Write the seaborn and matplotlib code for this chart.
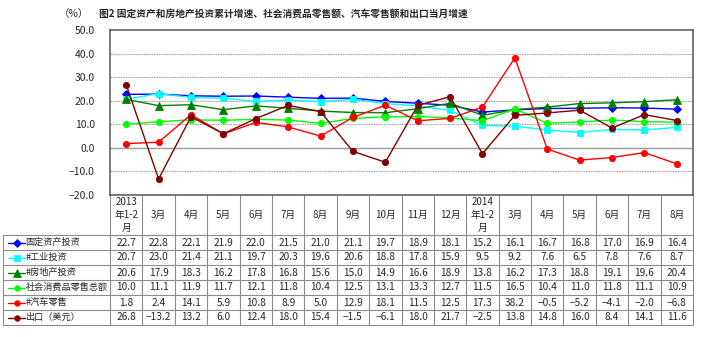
import matplotlib
matplotlib.use("Agg")
import matplotlib.pyplot as plt
import numpy as np
import pandas as pd
import seaborn as sns

sns.set_theme(style="white")
plt.rcParams["font.family"] = ["Noto Sans CJK SC", "DejaVu Sans"]
plt.rcParams["axes.unicode_minus"] = True

# Month labels (table header)
months = ["2013\n年1-2\n月", "3月", "4月", "5月", "6月", "7月", "8月", "9月",
          "10月", "11月", "12月", "2014\n年1-2\n月", "3月", "4月", "5月",
          "6月", "7月", "8月"]

# Growth rates, %
fixed_asset = [22.7, 22.8, 22.1, 21.9, 22.0, 21.5, 21.0, 21.1, 19.7, 18.9, 18.1,
               15.2, 16.1, 16.7, 16.8, 17.0, 16.9, 16.4]
industry = [20.7, 23.0, 21.4, 21.1, 19.7, 20.3, 19.6, 20.6, 18.8, 17.8, 15.9,
            9.5, 9.2, 7.6, 6.5, 7.8, 7.6, 8.7]
real_estate = [20.6, 17.9, 18.3, 16.2, 17.8, 16.8, 15.6, 15.0, 14.9, 16.6, 18.9,
               13.8, 16.2, 17.3, 18.8, 19.1, 19.6, 20.4]
retail = [10.0, 11.1, 11.9, 11.7, 12.1, 11.8, 10.4, 12.5, 13.1, 13.3, 12.7,
          11.5, 16.5, 10.4, 11.0, 11.8, 11.1, 10.9]
auto_retail = [1.8, 2.4, 14.1, 5.9, 10.8, 8.9, 5.0, 12.9, 18.1, 11.5, 12.5,
               17.3, 38.2, -0.5, -5.2, -4.1, -2.0, -6.8]
exports = [26.8, -13.2, 13.2, 6.0, 12.4, 18.0, 15.4, -1.5, -6.1, 18.0, 21.7,
           -2.5, 13.8, 14.8, 16.0, 8.4, 14.1, 11.6]

series_names = ["固定资产投资", "#工业投资", "#房地产投资", "社会消费品零售总额",
                "#汽车零售", "出口（美元）"]
series_values = [fixed_asset, industry, real_estate, retail, auto_retail, exports]
colors = ["#0000FF", "#00FFFF", "#008000", "#00FF00", "#FF0000", "#800000"]
markers = ["D", "s", "^", "o", "o", "o"]
msizes = [4.5, 4.5, 6.0, 4.5, 4.5, 4.5]

rows = []
for name, vals in zip(series_names, series_values):
    for i, v in enumerate(vals):
        rows.append({"idx": i, "value": v, "series": name})
df = pd.DataFrame(rows)

W, H = 712, 337
fig = plt.figure(figsize=(W / 100, H / 100), dpi=100)

x0, x1 = 110, 693
y_top, y_bot = 30, 195
ax = fig.add_axes([x0 / W, (H - y_bot) / H, (x1 - x0) / W, (y_bot - y_top) / H])

for name, c, m, ms in zip(series_names, colors, markers, msizes):
    sub = df[df["series"] == name]
    sns.lineplot(data=sub, x="idx", y="value", ax=ax, color=c, marker=m,
                 markersize=ms, markeredgecolor=c, markeredgewidth=0.6,
                 linewidth=1.0, legend=False, zorder=3)

ax.set_xlim(-0.5, len(months) - 0.5)
ax.set_ylim(-20, 50)
ax.set_yticks(np.arange(-20, 51, 10))
ax.set_yticklabels([f"{v:.1f}".replace("-", "−") for v in np.arange(-20, 51, 10)],
                   fontsize=7.5)
ax.set_xticks([])
ax.set_xlabel("")
ax.set_ylabel("")
ax.tick_params(axis="y", length=0, pad=11)
for yv in np.arange(-10, 50, 10):
    if yv == 0:
        ax.axhline(yv, color="#9a9a9a", lw=1.0, zorder=1)
    else:
        ax.axhline(yv, color="#a8a8a8", lw=0.8, ls=(0, (1.5, 0.8)), zorder=1)
for s in ax.spines.values():
    s.set_color("#555555")
    s.set_linewidth(1.1)

# Overlay in pixel coordinates for the title and the data table
ov = fig.add_axes([0, 0, 1, 1], zorder=-1)
ov.set_xlim(0, W)
ov.set_ylim(H, 0)
ov.axis("off")

ov.text(74, 14, "（%）", fontsize=7.5, ha="center", va="center")
ov.text(283, 14, "图2 固定资产和房地产投资累计增速、社会消费品零售额、汽车零售额和出口当月增速",
        fontsize=7.0, ha="center", va="center", fontweight="bold")

n = len(months)
cw = (x1 - x0) / n
row_top, row_h = 235, 15
tab_left = 3
grid_c = "#8c8c8c"

# vertical column lines
for k in range(n + 1):
    xx = x0 + k * cw
    ov.plot([xx, xx], [y_bot, row_top + 6 * row_h], color=grid_c, lw=0.8)
ov.plot([tab_left, tab_left], [row_top, row_top + 6 * row_h], color=grid_c, lw=0.8)
# horizontal row lines
for r in range(7):
    yy = row_top + r * row_h
    ov.plot([tab_left, x1], [yy, yy], color=grid_c, lw=0.8)

# header
for i, lab in enumerate(months):
    ov.text(x0 + (i + 0.5) * cw, (y_bot + row_top) / 2, lab, fontsize=7,
            ha="center", va="center", linespacing=1.35)

# body rows
for r, (name, vals, c, m, ms) in enumerate(zip(series_names, series_values,
                                              colors, markers, msizes)):
    yc = row_top + (r + 0.5) * row_h
    ov.plot([8, 25], [yc, yc], color=c, lw=1.0)
    ov.plot([16.5], [yc], marker=m, color=c, markersize=ms - 0.5,
            markeredgecolor=c, markeredgewidth=0.5)
    ov.text(25.5, yc, name, fontsize=6.6, ha="left", va="center")
    for i, v in enumerate(vals):
        ov.text(x0 + (i + 0.5) * cw, yc, f"{v:.1f}".replace("-", "−"),
                fontsize=7.3, ha="center", va="center")

fig.savefig("out.png", dpi=100)
